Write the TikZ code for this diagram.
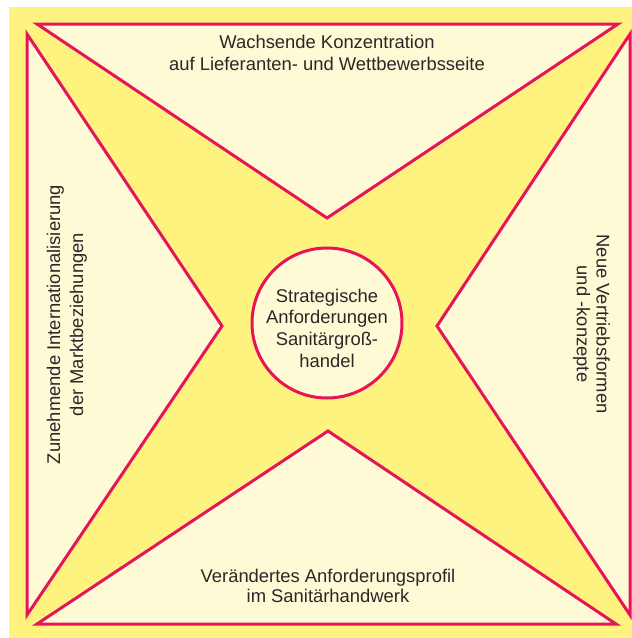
\documentclass[tikz,border=0pt]{standalone}
\usepackage{fontspec}
\setmainfont{Liberation Sans}
\definecolor{bgyellow}{RGB}{255,243,128}
\definecolor{lightfill}{RGB}{255,250,214}
\definecolor{rimred}{RGB}{232,20,90}
\definecolor{txt}{RGB}{40,40,40}
\begin{document}
\begin{tikzpicture}[x=1pt,y=-1pt,
  tri/.style={fill=lightfill,draw=rimred,line width=3pt,line join=miter},
  lbl/.style={text=txt,align=center,inner sep=0pt},
  fa/.style={font=\fontsize{18.4}{21.6}\selectfont},
  fb/.style={font=\fontsize{18.4}{19.8}\selectfont},
  fc/.style={font=\fontsize{18.4}{23}\selectfont}]
\useasboundingbox (0,0) rectangle (632,638);
\fill[bgyellow] (9,7) rectangle (632,638);
% four triangles
\draw[tri] (37,24) -- (618,24) -- (327,218) -- cycle;
\draw[tri] (37,624) -- (616,624) -- (328,431) -- cycle;
\draw[tri] (27,34) -- (27,615) -- (222,326) -- cycle;
\draw[tri] (630,34) -- (630,615) -- (437,326) -- cycle;
% centre circle
\draw[tri] (327,323) circle[radius=75];
% texts
\node[lbl,fa] (top) at (327,53.2) {Wachsende Konzentration\\auf Lieferanten- und Wettbewerbsseite};
\node[lbl,fb] (bottom) at (328,586) {Verändertes Anforderungsprofil\\im Sanitärhandwerk};
\node[lbl,fc,rotate=90] (left) at (66.8,324.5) {Zunehmende Internationalisierung\\der Marktbeziehungen};
\node[lbl,fb,rotate=-90] (right) at (591.5,324) {Neue Vertriebsformen\\und -konzepte};
\node[lbl,fa] (centre) at (327,328.2) {Strategische\\Anforderungen\\Sanitärgroß-\\handel};
\end{tikzpicture}
\end{document}
